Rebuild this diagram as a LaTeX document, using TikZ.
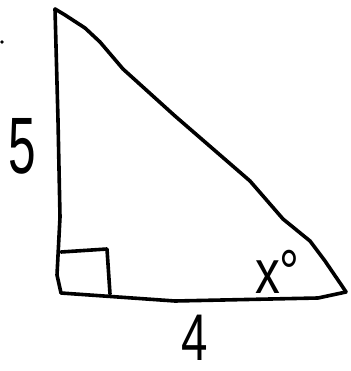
\documentclass[tikz,border=0pt]{standalone}
\usepackage{fontspec}
\setmainfont{Liberation Sans}
\begin{document}
\begin{tikzpicture}[x=1pt,y=-1pt,
  pen/.style={line width=3.6pt,line cap=round,line join=round,black},
  lbl/.style={inner sep=0pt,anchor=center}]
\useasboundingbox (0,0) rectangle (350,371);
% vertices
\coordinate (A) at (55,9);
\coordinate (B) at (61,293);
\coordinate (C) at (346,292);
% left side
\draw[pen] (A) -- (58,120) -- (60,217) -- (57,275) -- (B);
% bottom
\draw[pen] (B) -- (175,301) -- (318,298) -- (C);
% hypotenuse
\draw[pen] (A) -- (65,15) -- (85,28) -- (100,42) -- (123,69) -- (175,116) -- (250,181) -- (283,219) -- (310,241) -- (325,261) -- (340,283) -- (C);
% right-angle mark
\coordinate (S1) at (61,252);
\coordinate (S2) at (107,249);
\coordinate (S3) at (110,294);
\draw[pen] (S1) -- (S2) -- (S3);
% dot
\fill (2,42) circle (1.8pt);
% labels
\node[lbl,xscale=0.62] (five) at (22,146) {\fontsize{80}{80}\selectfont 5};
\node[lbl,xscale=0.72] (four) at (195,338) {\fontsize{66}{66}\selectfont 4};
\node[lbl,xscale=0.8,anchor=south west] (xdeg) at (255,294) {\fontsize{62}{62}\selectfont x°};
\end{tikzpicture}
\end{document}
